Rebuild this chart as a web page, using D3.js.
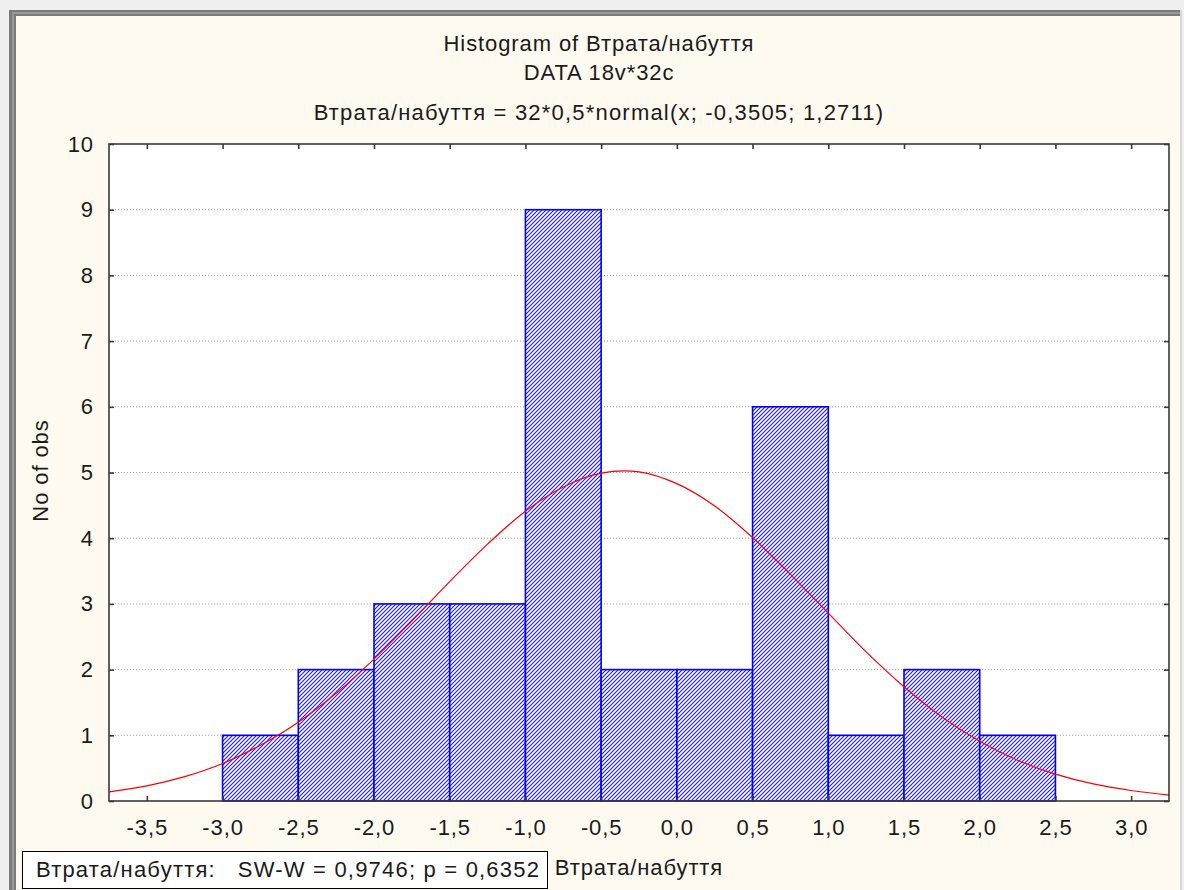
<!DOCTYPE html>
<html>
<head>
<meta charset="utf-8">
<script src="https://cdn.jsdelivr.net/npm/d3@7"></script>
<style>
body { margin: 0; background: #f0f0f0; }
text { font-family: "Liberation Sans", Arial, sans-serif; fill: #1a1a1a; letter-spacing: 0.9px; }
</style>
</head>
<body>
<svg width="1184" height="890"></svg>
<script>
// histogram bins (lower edge, width 0.5) and counts
const binStarts = [-3.0, -2.5, -2.0, -1.5, -1.0, -0.5, 0.0, 0.5, 1.0, 1.5, 2.0];
const counts = [1, 2, 3, 3, 9, 2, 2, 6, 1, 2, 1];
const binWidth = 0.5;

// fitted normal curve
const curveX = [-3.75, -3.5, -3.25, -3.0, -2.75, -2.5, -2.25, -2.0, -1.75, -1.5, -1.25, -1.0, -0.75, -0.5, -0.25,
    0.0, 0.25, 0.5, 0.75, 1.0, 1.25, 1.5, 1.75, 2.0, 2.25, 2.5, 2.75, 3.0, 3.25];
const curveY = [0.14, 0.23, 0.37, 0.57, 0.85, 1.20, 1.64, 2.16, 2.74, 3.34, 3.91, 4.41, 4.78, 4.99, 5.01,
    4.83, 4.49, 4.01, 3.45, 2.86, 2.27, 1.74, 1.28, 0.91, 0.62, 0.41, 0.26, 0.16, 0.09];

const xTicks = [-3.5, -3.0, -2.5, -2.0, -1.5, -1.0, -0.5, 0.0, 0.5, 1.0, 1.5, 2.0, 2.5, 3.0];
const yTicks = [0, 1, 2, 3, 4, 5, 6, 7, 8, 9, 10];

const titles = ["Histogram of Втрата/набуття", "DATA 18v*32c", "Втрата/набуття = 32*0,5*normal(x; -0,3505; 1,2711)"];
const statText = "Втрата/набуття:   SW-W = 0,9746; p = 0,6352";

const fontSize = 22;
const svg = d3.select("svg");

// window frame
svg.append("rect").attr("x", 16).attr("y", 16).attr("width", 1164).attr("height", 874).attr("fill", "#fffaf0");
svg.append("rect").attr("x", 9).attr("y", 10).attr("width", 1172).attr("height", 6).attr("fill", "#7a7a7a");
svg.append("rect").attr("x", 9).attr("y", 10).attr("width", 7).attr("height", 880).attr("fill", "#7a7a7a");
svg.append("rect").attr("x", 12).attr("y", 12).attr("width", 1168).attr("height", 2).attr("fill", "#9a9a9a");
svg.append("rect").attr("x", 12).attr("y", 12).attr("width", 2).attr("height", 878).attr("fill", "#9a9a9a");
svg.append("rect").attr("x", 1180).attr("y", 10).attr("width", 2).attr("height", 880).attr("fill", "#d8d8d8");

const margin = {top: 144, left: 109, right: 1169, bottom: 801};
const titleX = 599;

const x = d3.scaleLinear().domain([-3.75, 3.25]).range([margin.left, margin.right]);
const y = d3.scaleLinear().domain([0, 10]).range([margin.bottom, margin.top]);

const fmt = v => d3.format(".1f")(v).replace("−", "-").replace(".", ",");

// hatch pattern
const defs = svg.append("defs");
const pat = defs.append("pattern")
    .attr("id", "hatch")
    .attr("patternUnits", "userSpaceOnUse")
    .attr("width", 4).attr("height", 4);
pat.append("rect").attr("width", 4).attr("height", 4).attr("fill", "#fff");
pat.append("path")
    .attr("d", "M-1,1 l2,-2 M0,4 l4,-4 M3,5 l2,-2")
    .attr("stroke", "#1a1aff").attr("stroke-width", 1.1);

defs.append("clipPath").attr("id", "plotClip")
    .append("rect")
    .attr("x", margin.left).attr("y", margin.top)
    .attr("width", margin.right - margin.left).attr("height", margin.bottom - margin.top);

// plot background
svg.append("rect")
    .attr("x", margin.left).attr("y", margin.top)
    .attr("width", margin.right - margin.left).attr("height", margin.bottom - margin.top)
    .attr("fill", "#fff");

// gridlines
svg.append("g")
    .selectAll("line")
    .data(yTicks.slice(1, -1))
    .enter().append("line")
    .attr("x1", margin.left).attr("x2", margin.right)
    .attr("y1", d => y(d)).attr("y2", d => y(d))
    .attr("stroke", "#a0a0a0")
    .attr("stroke-dasharray", "1,2");

// bars
svg.append("g")
    .selectAll("rect")
    .data(d3.zip(binStarts, counts))
    .enter().append("rect")
    .attr("x", d => x(d[0]))
    .attr("width", d => x(d[0] + binWidth) - x(d[0]))
    .attr("y", d => y(d[1]))
    .attr("height", d => y(0) - y(d[1]))
    .attr("fill", "url(#hatch)")
    .attr("stroke", "#0000ff")
    .attr("stroke-width", 1.6);

// normal curve
svg.append("path")
    .datum(d3.zip(curveX, curveY))
    .attr("clip-path", "url(#plotClip)")
    .attr("fill", "none")
    .attr("stroke", "#ff0000")
    .attr("stroke-width", 1.2)
    .attr("d", d3.line().x(d => x(d[0])).y(d => y(d[1])).curve(d3.curveCatmullRom));

// frame
svg.append("rect")
    .attr("x", margin.left).attr("y", margin.top)
    .attr("width", margin.right - margin.left).attr("height", margin.bottom - margin.top)
    .attr("fill", "none")
    .attr("stroke", "#3a3a3a")
    .attr("stroke-width", 1.6);

// axes, ticks inward on all four sides
svg.append("g")
    .attr("transform", "translate(0," + margin.bottom + ")")
    .call(d3.axisBottom(x).tickValues(xTicks).tickSize(-5).tickPadding(18).tickFormat(fmt))
    .call(g => g.select(".domain").remove())
    .call(g => g.selectAll("line").attr("stroke", "#3a3a3a").attr("stroke-width", 1.6))
    .call(g => g.selectAll("text").attr("font-size", fontSize).attr("font-family", null).attr("fill", null));

svg.append("g")
    .attr("transform", "translate(0," + margin.top + ")")
    .call(d3.axisTop(x).tickValues(xTicks).tickSize(-5).tickFormat(""))
    .call(g => g.select(".domain").remove())
    .call(g => g.selectAll("line").attr("stroke", "#3a3a3a").attr("stroke-width", 1.6));

svg.append("g")
    .attr("transform", "translate(" + margin.left + ",0)")
    .call(d3.axisLeft(y).tickValues(yTicks).tickSize(-5).tickPadding(15).tickFormat(d3.format("d")))
    .call(g => g.select(".domain").remove())
    .call(g => g.selectAll("line").attr("stroke", "#3a3a3a").attr("stroke-width", 1.6))
    .call(g => g.selectAll("text").attr("font-size", fontSize).attr("font-family", null).attr("fill", null));

svg.append("g")
    .attr("transform", "translate(" + margin.right + ",0)")
    .call(d3.axisRight(y).tickValues(yTicks).tickSize(-5).tickFormat(""))
    .call(g => g.select(".domain").remove())
    .call(g => g.selectAll("line").attr("stroke", "#3a3a3a").attr("stroke-width", 1.6));

// titles
svg.selectAll(".title")
    .data(titles)
    .enter().append("text")
    .attr("class", "title")
    .attr("x", titleX)
    .attr("y", (d, i) => [51, 80, 120][i])
    .attr("text-anchor", "middle")
    .attr("font-size", fontSize)
    .style("letter-spacing", (d, i) => i === 2 ? "1.2px" : null)
    .text(d => d);

// axis titles
svg.append("text")
    .attr("transform", "translate(48," + ((margin.top + margin.bottom) / 2 - 2) + ") rotate(-90)")
    .attr("text-anchor", "middle")
    .attr("font-size", fontSize)
    .text("No of obs");

svg.append("text")
    .attr("x", (margin.left + margin.right) / 2)
    .attr("y", 875)
    .attr("text-anchor", "middle")
    .attr("font-size", fontSize)
    .text("Втрата/набуття");

// stats box
svg.append("rect")
    .attr("x", 22.5).attr("y", 851.5).attr("width", 525).attr("height", 37)
    .attr("fill", "#fff").attr("stroke", "#000");
svg.append("text")
    .attr("x", 36).attr("y", 877)
    .attr("font-size", fontSize)
    .attr("xml:space", "preserve")
    .style("white-space", "pre")
    .style("letter-spacing", "1.2px")
    .text(statText);
</script>
</body>
</html>
